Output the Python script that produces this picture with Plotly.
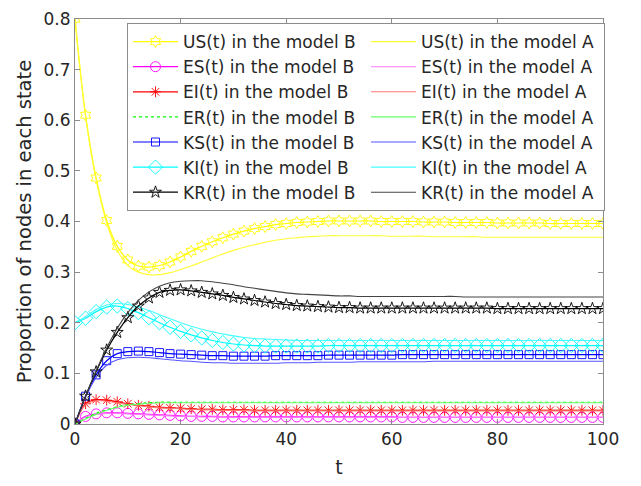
import plotly.graph_objects as go

# time grid (one sample every 2 time units)
t = list(range(0, 101, 2))

# ---- model B (lines with markers) ----
US_B = [0.800, 0.610, 0.486, 0.402, 0.351, 0.324, 0.312, 0.310, 0.313, 0.320,
        0.330, 0.341, 0.351, 0.360, 0.368, 0.375, 0.381, 0.386, 0.390, 0.394,
        0.396, 0.398, 0.399, 0.400, 0.401, 0.401, 0.401, 0.401, 0.401, 0.400,
        0.400, 0.400, 0.400, 0.399, 0.399, 0.399, 0.398, 0.398, 0.398, 0.398,
        0.397, 0.397, 0.397, 0.397, 0.397, 0.396, 0.396, 0.396, 0.396, 0.396,
        0.396]
ES_B = [0.000, 0.015, 0.020, 0.022, 0.022, 0.021, 0.020, 0.019, 0.018, 0.017,
        0.016, 0.015, 0.015, 0.015, 0.014, 0.014, 0.014, 0.014, 0.014, 0.014,
        0.014, 0.014, 0.014, 0.014, 0.014, 0.014, 0.014, 0.014, 0.014, 0.014,
        0.014, 0.013, 0.013, 0.013, 0.013, 0.013, 0.013, 0.013, 0.013, 0.013,
        0.013, 0.013, 0.013, 0.013, 0.013, 0.013, 0.013, 0.013, 0.013, 0.013,
        0.013]
EI_B = [0.000, 0.040, 0.048, 0.047, 0.044, 0.040, 0.037, 0.035, 0.033, 0.032,
        0.031, 0.030, 0.029, 0.029, 0.028, 0.028, 0.028, 0.027, 0.027, 0.027,
        0.027, 0.027, 0.027, 0.027, 0.027, 0.027, 0.027, 0.027, 0.027, 0.027,
        0.027, 0.027, 0.027, 0.027, 0.027, 0.027, 0.027, 0.027, 0.027, 0.027,
        0.027, 0.027, 0.027, 0.027, 0.027, 0.027, 0.027, 0.027, 0.027, 0.027,
        0.027]
ER_B = [0.000, 0.011, 0.021, 0.028, 0.034, 0.038, 0.040, 0.042, 0.043, 0.043,
        0.043, 0.043, 0.043, 0.043, 0.043, 0.043, 0.043, 0.043, 0.043, 0.043,
        0.043, 0.043, 0.043, 0.043, 0.043, 0.043, 0.043, 0.043, 0.043, 0.043,
        0.043, 0.043, 0.043, 0.043, 0.043, 0.043, 0.043, 0.043, 0.043, 0.043,
        0.043, 0.043, 0.043, 0.043, 0.043, 0.043, 0.043, 0.043, 0.043, 0.043,
        0.043]
KS_B = [0.000, 0.055, 0.097, 0.125, 0.139, 0.143, 0.144, 0.143, 0.141, 0.139,
        0.138, 0.137, 0.136, 0.135, 0.135, 0.134, 0.134, 0.134, 0.134, 0.135,
        0.135, 0.135, 0.135, 0.135, 0.136, 0.136, 0.136, 0.136, 0.136, 0.136,
        0.136, 0.137, 0.137, 0.137, 0.137, 0.137, 0.137, 0.137, 0.137, 0.137,
        0.137, 0.137, 0.137, 0.137, 0.137, 0.137, 0.137, 0.137, 0.137, 0.137,
        0.137]
KI_B = [0.200, 0.209, 0.222, 0.231, 0.233, 0.228, 0.220, 0.210, 0.200, 0.191,
        0.183, 0.176, 0.170, 0.165, 0.161, 0.158, 0.156, 0.155, 0.154, 0.154,
        0.154, 0.154, 0.154, 0.154, 0.155, 0.155, 0.155, 0.155, 0.155, 0.155,
        0.155, 0.155, 0.155, 0.155, 0.155, 0.155, 0.155, 0.155, 0.155, 0.155,
        0.155, 0.155, 0.155, 0.155, 0.155, 0.155, 0.155, 0.155, 0.155, 0.155,
        0.155]
KR_B = [0.000, 0.055, 0.103, 0.146, 0.181, 0.210, 0.233, 0.249, 0.260, 0.264,
        0.265, 0.263, 0.260, 0.257, 0.254, 0.250, 0.247, 0.244, 0.241, 0.238,
        0.236, 0.234, 0.233, 0.232, 0.231, 0.230, 0.230, 0.229, 0.229, 0.229,
        0.229, 0.229, 0.229, 0.229, 0.229, 0.229, 0.229, 0.229, 0.229, 0.229,
        0.228, 0.228, 0.228, 0.228, 0.228, 0.228, 0.228, 0.228, 0.228, 0.228,
        0.228]

# ---- model A (plain lines) ----
US_A = [0.800, 0.608, 0.482, 0.397, 0.343, 0.313, 0.300, 0.295, 0.295, 0.299,
        0.305, 0.312, 0.320, 0.328, 0.336, 0.343, 0.349, 0.354, 0.359, 0.363,
        0.366, 0.368, 0.370, 0.371, 0.372, 0.372, 0.372, 0.372, 0.372, 0.372,
        0.371, 0.371, 0.371, 0.371, 0.370, 0.370, 0.370, 0.370, 0.370, 0.369,
        0.369, 0.369, 0.369, 0.369, 0.369, 0.369, 0.369, 0.369, 0.369, 0.369,
        0.369]
ES_A = [0.000, 0.014, 0.019, 0.021, 0.021, 0.020, 0.019, 0.018, 0.017, 0.016,
        0.015, 0.015, 0.014, 0.014, 0.014, 0.013, 0.013, 0.013, 0.013, 0.013,
        0.013, 0.013, 0.013, 0.013, 0.013, 0.013, 0.013, 0.013, 0.013, 0.013,
        0.013, 0.013, 0.013, 0.013, 0.013, 0.013, 0.013, 0.013, 0.013, 0.013,
        0.013, 0.013, 0.013, 0.013, 0.013, 0.013, 0.013, 0.013, 0.013, 0.013,
        0.013]
EI_A = [0.000, 0.038, 0.046, 0.045, 0.042, 0.039, 0.036, 0.034, 0.032, 0.031,
        0.030, 0.029, 0.028, 0.028, 0.027, 0.027, 0.027, 0.026, 0.026, 0.026,
        0.026, 0.026, 0.026, 0.026, 0.026, 0.026, 0.026, 0.026, 0.026, 0.026,
        0.026, 0.026, 0.026, 0.026, 0.026, 0.026, 0.026, 0.026, 0.026, 0.026,
        0.026, 0.026, 0.026, 0.026, 0.026, 0.026, 0.026, 0.026, 0.026, 0.026,
        0.026]
ER_A = [0.000, 0.010, 0.019, 0.027, 0.033, 0.037, 0.039, 0.041, 0.042, 0.042,
        0.042, 0.042, 0.042, 0.042, 0.042, 0.042, 0.042, 0.042, 0.042, 0.042,
        0.042, 0.042, 0.042, 0.042, 0.042, 0.042, 0.042, 0.042, 0.042, 0.042,
        0.042, 0.042, 0.042, 0.042, 0.042, 0.042, 0.042, 0.042, 0.042, 0.042,
        0.042, 0.042, 0.042, 0.042, 0.042, 0.042, 0.042, 0.042, 0.042, 0.042,
        0.042]
KS_A = [0.000, 0.053, 0.092, 0.116, 0.127, 0.131, 0.132, 0.131, 0.129, 0.127,
        0.125, 0.124, 0.122, 0.121, 0.121, 0.120, 0.120, 0.120, 0.120, 0.120,
        0.121, 0.121, 0.121, 0.122, 0.122, 0.122, 0.122, 0.123, 0.123, 0.123,
        0.123, 0.123, 0.123, 0.123, 0.124, 0.124, 0.124, 0.124, 0.124, 0.124,
        0.124, 0.124, 0.124, 0.124, 0.124, 0.124, 0.124, 0.124, 0.124, 0.124,
        0.124]
KI_A = [0.200, 0.212, 0.226, 0.235, 0.238, 0.236, 0.231, 0.224, 0.216, 0.208,
        0.200, 0.193, 0.187, 0.182, 0.178, 0.174, 0.171, 0.169, 0.168, 0.167,
        0.166, 0.165, 0.165, 0.165, 0.165, 0.165, 0.165, 0.165, 0.165, 0.165,
        0.165, 0.165, 0.165, 0.165, 0.165, 0.165, 0.165, 0.165, 0.165, 0.165,
        0.165, 0.165, 0.165, 0.165, 0.165, 0.165, 0.165, 0.165, 0.165, 0.165,
        0.165]
KR_A = [0.000, 0.055, 0.105, 0.150, 0.189, 0.220, 0.244, 0.261, 0.272, 0.279,
        0.282, 0.283, 0.283, 0.281, 0.278, 0.275, 0.271, 0.268, 0.265, 0.262,
        0.259, 0.257, 0.256, 0.255, 0.254, 0.253, 0.253, 0.252, 0.252, 0.252,
        0.252, 0.252, 0.252, 0.252, 0.252, 0.252, 0.252, 0.251, 0.251, 0.251,
        0.251, 0.251, 0.251, 0.251, 0.251, 0.251, 0.251, 0.251, 0.251, 0.251,
        0.251]

state_names = ["US", "ES", "EI", "ER", "KS", "KI", "KR"]
series_B = [US_B, ES_B, EI_B, ER_B, KS_B, KI_B, KR_B]
series_A = [US_A, ES_A, EI_A, ER_A, KS_A, KI_A, KR_A]

colors_B = ["#ffff00", "#ff00ff", "#ff0000", "#00ff00", "#0000ff", "#00ffff", "#000000"]
colors_A = ["#ffff33", "#ff77ff", "#ff7777", "#66ff66", "#5555ff", "#44ffff", "#444444"]
symbols_B = ["hexagram-open", "circle-open", "asterisk-open", None,
             "square-open", "diamond-open", "star-open"]
sizes_B = [9, 10, 9, 0, 8, 11, 9]
dash_B = ["solid", "solid", "solid", "dot", "solid", "solid", "solid"]

FONT = "DejaVu Sans"
TXT = "#262626"

fig = go.Figure()
for name, yb, ya, cb, ca, sym, sz, dsh in zip(state_names, series_B, series_A,
                                              colors_B, colors_A, symbols_B, sizes_B, dash_B):
    if sym is None:
        fig.add_trace(go.Scatter(
            x=t, y=yb, mode="lines", name=f"{name}(t) in the model B",
            line=dict(color=cb, width=1.2, dash=dsh, shape="spline")))
    else:
        fig.add_trace(go.Scatter(
            x=t, y=yb, mode="lines+markers", name=f"{name}(t) in the model B",
            line=dict(color=cb, width=1.2, dash=dsh, shape="spline"),
            marker=dict(symbol=sym, size=sz, color=cb, line=dict(width=0.9, color=cb))))
    fig.add_trace(go.Scatter(
        x=t, y=ya, mode="lines", name=f"{name}(t) in the model A",
        line=dict(color=ca, width=1.1, shape="spline")))

axis_common = dict(
    showline=True, linecolor="#8c8c8c", linewidth=1, mirror="ticks",
    ticks="inside", ticklen=5, tickcolor="#8c8c8c",
    showgrid=False, zeroline=False, ticklabeloverflow="allow",
    tickfont=dict(family=FONT, size=17, color=TXT),
)

fig.update_layout(
    width=641, height=486,
    margin=dict(l=75, r=38, t=9, b=62),
    plot_bgcolor="white", paper_bgcolor="white",
    font=dict(family=FONT, size=17, color=TXT),
    showlegend=True,
    legend=dict(
        orientation="h", x=0.0985, y=0.99, xanchor="left", yanchor="top",
        entrywidth=178, entrywidthmode="pixels", itemwidth=45,
        bgcolor="white", bordercolor="#8c8c8c", borderwidth=1,
        font=dict(family=FONT, size=17, color=TXT),
        traceorder="normal",
    ),
    xaxis=dict(range=[0, 100], tickvals=[0, 20, 40, 60, 80, 100],
               title=dict(text="t", font=dict(family=FONT, size=19, color=TXT), standoff=12),
               **axis_common),
    yaxis=dict(range=[0, 0.8], tickvals=[0, 0.1, 0.2, 0.3, 0.4, 0.5, 0.6, 0.7, 0.8],
               ticktext=["0", "0.1", "0.2", "0.3", "0.4", "0.5", "0.6", "0.7", "0.8"],
               title=dict(text="Proportion of nodes in each state",
                          font=dict(family=FONT, size=19.5, color=TXT), standoff=6),
               **axis_common),
)

fig.write_html("out.html")
